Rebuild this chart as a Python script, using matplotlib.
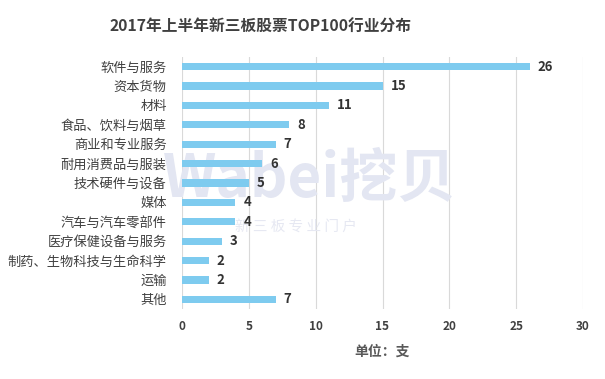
import matplotlib
matplotlib.use("Agg")
import matplotlib.pyplot as plt

plt.rcParams['font.family'] = ['Noto Sans CJK SC', 'DejaVu Sans']

categories = ["软件与服务", "资本货物", "材料", "食品、饮料与烟草", "商业和专业服务",
              "耐用消费品与服装", "技术硬件与设备", "媒体", "汽车与汽车零部件",
              "医疗保健设备与服务", "制药、生物科技与生命科学", "运输", "其他"]
values = [26, 15, 11, 8, 7, 6, 5, 4, 4, 3, 2, 2, 7]
xticks = [0, 5, 10, 15, 20, 25, 30]
title = "2017年上半年新三板股票TOP100行业分布"
xlabel = "单位：支"

fig = plt.figure(figsize=(6.05, 3.79), dpi=100)
ax = fig.add_axes([182/605, 1-309/379, 401/605, 252/379])

# watermark (behind bars)
ax.text(163/605, 1-197/379, "Wabei挖贝", fontsize=42, fontweight='bold',
        color='#e3e6f2', ha='left', va='baseline', zorder=1,
        transform=fig.transFigure, clip_on=False)
ax.text(296/605, 1-227/379, "新 三 板 专 业 门 户", fontsize=10.5,
        color='#e6e8f2', ha='center', va='center', zorder=1,
        transform=fig.transFigure, clip_on=False)

y = list(range(len(categories)))
ax.barh(y, values, height=0.37, color='#7ECBEF', zorder=3)
for yi, v in zip(y, values):
    ax.text(v + 0.6, yi, str(v), va='center', ha='left', fontsize=9.5,
            fontweight='bold', color='#333333', zorder=4)

ax.set_ylim(len(categories) - 0.5, -0.5)
ax.set_xlim(0, 30)
ax.set_xticks(xticks)
ax.set_yticks(y)
ax.set_yticklabels(categories, fontsize=9.5, color='#404040')
ax.tick_params(axis='y', length=0, pad=11)
ax.tick_params(axis='x', length=0, pad=8, labelsize=8.5, labelcolor='#404040')
for lbl in ax.get_xticklabels():
    lbl.set_fontweight('bold')
ax.grid(axis='x', color='#d9d9d9', linewidth=0.8, zorder=0)
ax.set_axisbelow(True)
for s in ax.spines.values():
    s.set_visible(False)

ax.set_xlabel(xlabel, fontsize=10, fontweight='bold', color='#595959', labelpad=8)
fig.text(261/605, 1-27/379, title, fontsize=11.3, fontweight='bold', color='#404040',
         ha='center', va='center')

fig.savefig("out.png", dpi=100)
